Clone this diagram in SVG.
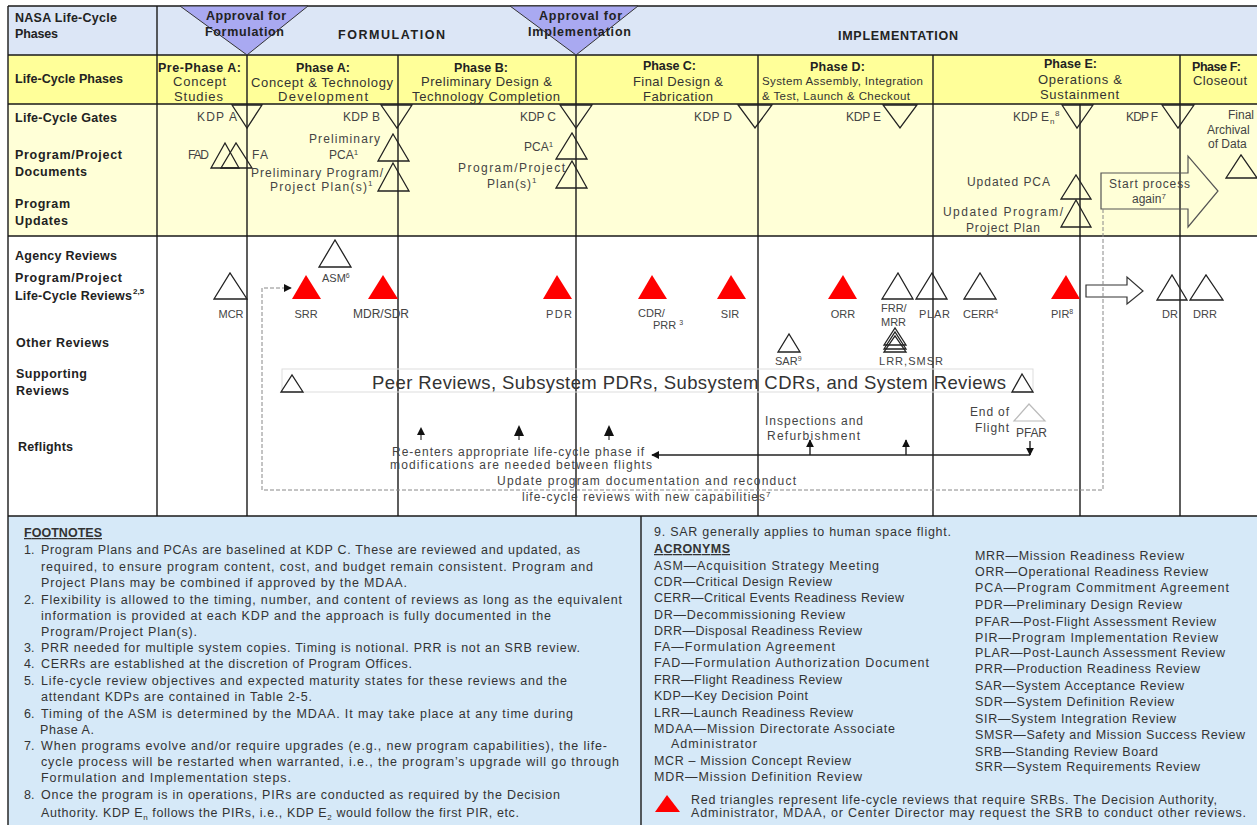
<svg xmlns="http://www.w3.org/2000/svg" width="1257" height="825" viewBox="0 0 1257 825">
<style>
text{font-family:"Liberation Sans",Arial,sans-serif}
.lbl{font-size:12.5px;font-weight:bold;fill:#222}
.ph{font-size:12.5px;font-weight:bold;fill:#222}
.pd{font-size:13px;fill:#333}
.pds{font-size:11.5px;fill:#333}
.t{font-size:12px;fill:#444}
.r{font-size:11px;fill:#444}
.rm{font-size:11px;fill:#444;text-anchor:middle}
.fn{font-size:12.5px;fill:#333}
.ac{font-size:12.5px;fill:#333}
.sup{font-size:8px;fill:#444}
.supb{font-size:8px;font-weight:bold;fill:#222}
.tri{fill:none;stroke:#222;stroke-width:1.3}
.red{fill:#ff0000;stroke:none}
.grid{stroke:#1a1a1a;stroke-width:1.4;fill:none}
.appr{fill:#a9a9f1;stroke:#333;stroke-width:1}
.apt{font-size:12.5px;font-weight:bold;fill:#222}
</style>
<defs>
<marker id="ah" viewBox="0 0 10 10" refX="9" refY="5" markerUnits="userSpaceOnUse" markerWidth="8" markerHeight="8" orient="auto"><path d="M0,0 L10,5 L0,10 z" fill="#111"/></marker>
</defs>

<g id="grid">
<rect x="8" y="6" width="1249" height="49" fill="#dce6f6"/>
<rect x="8" y="55" width="1249" height="49" fill="#ffff99"/>
<rect x="8" y="104" width="1249" height="132" fill="#ffffd7"/>
<rect x="8" y="236" width="1249" height="280" fill="#ffffff"/>
<rect x="8" y="516" width="1249" height="309" fill="#d6e9f8"/>
<path class="grid" d="M8,6H1257M8,55H1257M8,104H1257M8,236H1257M8,516H1257"/>
<path class="grid" d="M8,6V825M157,6V516M247,55V516M398,55V516M576,55V516M758,55V516M933,55V516M1180,55V516M1080,104V516M641,516V825"/>
<rect x="282" y="369" width="751" height="23" fill="none" stroke="#dddddd" stroke-width="1"/>
</g>

<g id="approval-formulation">
<polygon class="appr" points="180,6 308,6 247,55"/>
<text class="apt" x="206" y="20" textLength="80">Approval for</text>
<text class="apt" x="205" y="36" textLength="79">Formulation</text>
</g>
<g id="approval-implementation">
<polygon class="appr" points="510,6 638,6 576,55"/>
<text class="apt" x="539" y="20" textLength="83">Approval for</text>
<text class="apt" x="528" y="36" textLength="103">Implementation</text>
</g>
<g id="stage-labels">
<text class="apt" x="338" y="39" textLength="107">FORMULATION</text>
<text class="apt" x="838" y="40" textLength="120">IMPLEMENTATION</text>
</g>

<g id="row-labels">
<text class="lbl" x="15" y="22" textLength="102">NASA Life-Cycle</text>
<text class="lbl" x="15" y="38" textLength="43">Phases</text>
<text class="lbl" x="15" y="83" textLength="108">Life-Cycle Phases</text>
<text class="lbl" x="15" y="122" textLength="102">Life-Cycle Gates</text>
<text class="lbl" x="15" y="159" textLength="107">Program/Project</text>
<text class="lbl" x="15" y="176" textLength="72">Documents</text>
<text class="lbl" x="15" y="208" textLength="55">Program</text>
<text class="lbl" x="15" y="225" textLength="53">Updates</text>
<text class="lbl" x="15" y="260" textLength="102">Agency Reviews</text>
<text class="lbl" x="15" y="282" textLength="107">Program/Project</text>
<text class="lbl" x="15" y="300" textLength="117">Life-Cycle Reviews</text>
<text class="supb" x="133" y="294">2,5</text>
<text class="lbl" x="16" y="347" textLength="93">Other Reviews</text>
<text class="lbl" x="16" y="378" textLength="71">Supporting</text>
<text class="lbl" x="16" y="395" textLength="53">Reviews</text>
<text class="lbl" x="18" y="451" textLength="55">Reflights</text>
</g>

<g id="phase-pre-a">
<text class="ph" x="158" y="72" textLength="83">Pre-Phase A:</text>
<text class="pd" x="173" y="86" textLength="53">Concept</text>
<text class="pd" x="174" y="101" textLength="49">Studies</text>
</g>
<g id="phase-a">
<text class="ph" x="296" y="72" textLength="54">Phase A:</text>
<text class="pd" x="251" y="87" textLength="142">Concept &amp; Technology</text>
<text class="pd" x="278" y="101" textLength="90">Development</text>
</g>
<g id="phase-b">
<text class="ph" x="454" y="72" textLength="54">Phase B:</text>
<text class="pd" x="421" y="86" textLength="131">Preliminary Design &amp;</text>
<text class="pd" x="412" y="101" textLength="148">Technology Completion</text>
</g>
<g id="phase-c">
<text class="ph" x="643" y="70" textLength="53">Phase C:</text>
<text class="pd" x="633" y="86" textLength="90">Final Design &amp;</text>
<text class="pd" x="643" y="101" textLength="70">Fabrication</text>
</g>
<g id="phase-d">
<text class="ph" x="810" y="71" textLength="55">Phase D:</text>
<text class="pds" x="762" y="85" textLength="161">System Assembly, Integration</text>
<text class="pds" x="762" y="100" textLength="148">&amp; Test, Launch &amp; Checkout</text>
</g>
<g id="phase-e">
<text class="ph" x="1044" y="68" textLength="53">Phase E:</text>
<text class="pd" x="1038" y="84" textLength="84">Operations &amp;</text>
<text class="pd" x="1040" y="99" textLength="79">Sustainment</text>
</g>
<g id="phase-f">
<text class="ph" x="1192" y="71" textLength="49">Phase F:</text>
<text class="pd" x="1193" y="85" textLength="54">Closeout</text>
</g>

<g id="kdp-a"><polygon class="tri" points="232,105 262,105 247,128"/><text class="t" x="197" y="121" textLength="40">KDP A</text></g>
<g id="kdp-b"><polygon class="tri" points="381,105 412,105 397,128"/><text class="t" x="343" y="121" textLength="37">KDP B</text></g>
<g id="kdp-c"><polygon class="tri" points="560,105 592,105 576,128"/><text class="t" x="520" y="121" textLength="36">KDP C</text></g>
<g id="kdp-d"><polygon class="tri" points="738,105 772,105 755,128"/><text class="t" x="694" y="121" textLength="38">KDP D</text></g>
<g id="kdp-e"><polygon class="tri" points="883,105 917,105 900,128"/><text class="t" x="846" y="121" textLength="35">KDP E</text></g>
<g id="kdp-en"><polygon class="tri" points="1062,105 1093,105 1077,128"/><text class="t" x="1013" y="121" textLength="36">KDP E</text><text class="sup" x="1050" y="124">n</text><text class="sup" x="1055" y="116">8</text></g>
<g id="kdp-f"><polygon class="tri" points="1162,105 1194,105 1178,128"/><text class="t" x="1126" y="121" textLength="32">KDP F</text></g>

<g id="doc-fad-fa">
<polygon class="tri" points="211,168 239,168 225,143"/>
<polygon class="tri" points="221,168 252,168 236,143"/>
<text class="t" x="188" y="159" textLength="21">FAD</text>
<text class="t" x="252" y="159" textLength="16">FA</text>
</g>
<g id="doc-prelim-pca">
<polygon class="tri" points="378,161 409,161 393,134"/>
<text class="t" x="309" y="143" textLength="71">Preliminary</text>
<text class="t" x="329" y="159">PCA<tspan dy="-4" font-size="8">1</tspan></text>
</g>
<g id="doc-prelim-plan">
<polygon class="tri" points="378,191 409,191 393,163"/>
<text class="t" x="251" y="177" textLength="132">Preliminary Program/</text>
<text class="t" x="270" y="191" textLength="97">Project Plan(s)</text>
<text class="sup" x="368" y="186">1</text>
</g>
<g id="doc-pca">
<polygon class="tri" points="556,159 587,159 572,133"/>
<text class="t" x="524" y="151">PCA<tspan dy="-4" font-size="8">1</tspan></text>
</g>
<g id="doc-plan">
<polygon class="tri" points="556,188 587,188 572,161"/>
<text class="t" x="458" y="172" textLength="107">Program/Project</text>
<text class="t" x="487" y="188" textLength="44">Plan(s)</text>
<text class="sup" x="532" y="183">1</text>
</g>
<g id="doc-updated-pca">
<polygon class="tri" points="1061,199 1091,199 1076,175"/>
<text class="t" x="967" y="186" textLength="83">Updated PCA</text>
</g>
<g id="doc-updated-plan">
<polygon class="tri" points="1061,227 1091,227 1076,200"/>
<text class="t" x="943" y="216" textLength="120">Updated Program/</text>
<text class="t" x="966" y="232" textLength="74">Project Plan</text>
</g>
<g id="doc-final-archival">
<polygon class="tri" points="1226,178 1257,178 1241,155"/>
<text class="t" x="1228" y="119">Final</text>
<text class="t" x="1207" y="134">Archival</text>
<text class="t" x="1208" y="148">of  Data</text>
</g>
<g id="start-process-again">
<path d="M1101,173 H1188 V156 L1218,191 L1188,227 V209 H1101 Z" fill="none" stroke="#555" stroke-width="1.2"/>
<text class="t" x="1109" y="188" textLength="81">Start process</text>
<text class="t" x="1132" y="203">again<tspan dy="-4" font-size="8">7</tspan></text>
</g>

<g id="rev-mcr"><polygon class="tri" points="214,299 247,299 230,273"/><text class="rm" x="231" y="318">MCR</text></g>
<g id="rev-asm"><polygon class="tri" points="319,267 351,267 335,240"/><text class="r" x="322" y="282">ASM<tspan dy="-4" font-size="7">6</tspan></text></g>
<g id="rev-srr"><polygon class="red" points="292,299 321,299 306,275"/><text class="rm" x="306" y="318">SRR</text></g>
<g id="rev-mdr-sdr"><polygon class="red" points="368,299 398,299 383,275"/><text class="rm" x="381" y="318" style="font-size:12px">MDR/SDR</text></g>
<g id="rev-pdr"><polygon class="red" points="543,299 572,299 557,275"/><text class="r" x="546" y="318" textLength="26">PDR</text></g>
<g id="rev-cdr-prr"><polygon class="red" points="638,299 667,299 652,275"/><text class="r" x="638" y="317">CDR/</text><text class="r" x="653" y="329">PRR <tspan dy="-4" font-size="7">3</tspan></text></g>
<g id="rev-sir"><polygon class="red" points="717,299 746,299 731,275"/><text class="rm" x="730" y="318">SIR</text></g>
<g id="rev-sar"><polygon class="tri" points="778,352 800,352 789,334"/><text class="r" x="775" y="365">SAR<tspan dy="-4" font-size="7">9</tspan></text></g>
<g id="rev-orr"><polygon class="red" points="828,299 857,299 843,275"/><text class="rm" x="843" y="318">ORR</text></g>
<g id="rev-frr-mrr"><polygon class="tri" points="882,299 913,299 898,273"/><text class="r" x="881" y="312">FRR/</text><text class="r" x="881" y="326">MRR</text></g>
<g id="rev-lrr-smsr">
<polygon class="tri" points="884,345 906,345 895,328"/>
<polygon class="tri" points="884,349 906,349 895,332"/>
<polygon class="tri" points="884,352 906,352 895,336"/>
<text class="r" x="879" y="365" textLength="64">LRR,SMSR</text>
</g>
<g id="rev-plar"><polygon class="tri" points="916,299 947,299 932,273"/><text class="r" x="919" y="318" textLength="31">PLAR</text></g>
<g id="rev-cerr"><polygon class="tri" points="964,299 996,299 980,273"/><text class="r" x="963" y="318">CERR<tspan dy="-4" font-size="7">4</tspan></text></g>
<g id="rev-pir"><polygon class="red" points="1051,299 1080,299 1066,275"/><text class="r" x="1051" y="318">PIR<tspan dy="-4" font-size="7">8</tspan></text></g>
<g id="rev-next-arrow"><path d="M1086,285 H1127 V277 L1143,291 L1127,304 V297 H1086 Z" fill="#fff" stroke="#333" stroke-width="1.2"/></g>
<g id="rev-dr"><polygon class="tri" points="1157,300 1187,300 1172,275"/><text class="rm" x="1170" y="318">DR</text></g>
<g id="rev-drr"><polygon class="tri" points="1190,300 1223,300 1206,275"/><text class="rm" x="1205" y="318">DRR</text></g>

<g id="supporting-reviews">
<polygon class="tri" points="281,392 303,392 292,375"/>
<polygon class="tri" points="1012,392 1033,392 1022,374"/>
<text x="372" y="389" font-size="18.5" fill="#333" textLength="634">Peer Reviews, Subsystem PDRs, Subsystem CDRs, and System Reviews</text>
</g>

<g id="reflights">
<polygon points="421,427 417,435 425,435" fill="#111"/>
<polygon points="519,425 514,436 524,436" fill="#111"/>
<polygon points="609,425 604,436 614,436" fill="#111"/>
<path d="M421,435V440M519,436V440M609,436V440" stroke="#111" stroke-width="1"/>
<text class="t" x="392" y="456" textLength="252">Re-enters appropriate life-cycle phase if</text>
<text class="t" x="390" y="469" textLength="262">modifications are needed between flights</text>
<text class="t" x="497" y="485" textLength="299">Update program documentation and reconduct</text>
<text class="t" x="522" y="501" textLength="243">life-cycle reviews with new capabilities</text>
<text class="sup" x="766" y="497">7</text>
<text class="t" x="765" y="425" textLength="98">Inspections and</text>
<text class="t" x="767" y="440" textLength="93">Refurbishment</text>
<text class="t" x="970" y="416" textLength="39">End of</text>
<text class="t" x="975" y="432" textLength="34">Flight</text>
<polygon points="1014,421 1045,421 1029,404" fill="none" stroke="#bbbbbb" stroke-width="1.2"/>
<text class="t" x="1016" y="437" textLength="31">PFAR</text>
</g>

<g id="connectors">
<path d="M1103,209 V490 H262 V288 H291" fill="none" stroke="#888" stroke-width="1" stroke-dasharray="4 2" marker-end="url(#ah)"/>
<path d="M1030,455 H652" fill="none" stroke="#222" stroke-width="1.6" marker-end="url(#ah)"/>
<path d="M810,455 V440" fill="none" stroke="#222" stroke-width="1.4" marker-end="url(#ah)"/>
<path d="M906,455 V440" fill="none" stroke="#222" stroke-width="1.4" marker-end="url(#ah)"/>
<path d="M1030,441 V455" fill="none" stroke="#222" stroke-width="1.4" marker-end="url(#ah)"/>
</g>

<g id="footnotes">
<text class="fn" x="24" y="537" font-weight="bold" text-decoration="underline" textLength="78">FOOTNOTES</text>
<text class="fn" x="24" y="554">1.</text>
<text class="fn" x="41" y="554" textLength="539">Program Plans and PCAs are baselined at KDP C.  These are reviewed and updated, as</text>
<text class="fn" x="41" y="571" textLength="552">required, to ensure program content, cost, and budget remain consistent. Program and</text>
<text class="fn" x="41" y="587" textLength="366">Project Plans may be combined if approved by the MDAA.</text>
<text class="fn" x="24" y="604">2.</text>
<text class="fn" x="41" y="604" textLength="581">Flexibility is allowed to the timing, number, and content of reviews as long as the equivalent</text>
<text class="fn" x="41" y="620" textLength="510">information is provided at each KDP and the approach is fully documented in the</text>
<text class="fn" x="41" y="636" textLength="156">Program/Project Plan(s).</text>
<text class="fn" x="24" y="652">3.</text>
<text class="fn" x="41" y="652" textLength="539">PRR needed for multiple system copies.  Timing is notional.  PRR is not an SRB review.</text>
<text class="fn" x="24" y="668">4.</text>
<text class="fn" x="41" y="668" textLength="371">CERRs are established at the discretion of Program Offices.</text>
<text class="fn" x="24" y="685">5.</text>
<text class="fn" x="41" y="685" textLength="526">Life-cycle review objectives and expected maturity states for these reviews and the</text>
<text class="fn" x="41" y="701" textLength="271">attendant KDPs are contained in Table 2-5.</text>
<text class="fn" x="24" y="718">6.</text>
<text class="fn" x="41" y="718" textLength="532">Timing of the ASM is determined by the MDAA.  It may take place at any time during</text>
<text class="fn" x="40" y="734" textLength="54">Phase A.</text>
<text class="fn" x="24" y="750">7.</text>
<text class="fn" x="41" y="750" textLength="566">When programs evolve and/or require upgrades (e.g., new program capabilities), the life-</text>
<text class="fn" x="41" y="766" textLength="578">cycle  process will be restarted when warranted, i.e., the program’s upgrade will go through</text>
<text class="fn" x="41" y="782" textLength="250">Formulation and Implementation steps.</text>
<text class="fn" x="24" y="799">8.</text>
<text class="fn" x="41" y="799" textLength="519">Once the program is in operations, PIRs are conducted as required by the Decision</text>
<text class="fn" x="41" y="817" letter-spacing="0.6">Authority. KDP E<tspan dy="3" font-size="8">n</tspan><tspan dy="-3"> follows the PIRs, i.e., KDP E</tspan><tspan dy="3" font-size="8">2</tspan><tspan dy="-3"> would follow the first PIR, etc.</tspan></text>

<text class="ac" x="654" y="536" textLength="297">9.  SAR generally applies to human space flight.</text>
<text class="ac" x="654" y="553" font-weight="bold" text-decoration="underline" textLength="76">ACRONYMS</text>
<text class="ac" x="654" y="570" textLength="225">ASM—Acquisition Strategy Meeting</text>
<text class="ac" x="654" y="586" textLength="178">CDR—Critical Design Review</text>
<text class="ac" x="654" y="602" textLength="250">CERR—Critical Events Readiness Review</text>
<text class="ac" x="654" y="619" textLength="191">DR—Decommissioning Review</text>
<text class="ac" x="654" y="635" textLength="208">DRR—Disposal Readiness Review</text>
<text class="ac" x="654" y="651" textLength="181">FA—Formulation Agreement</text>
<text class="ac" x="654" y="667" textLength="275">FAD—Formulation Authorization Document</text>
<text class="ac" x="654" y="684" textLength="188">FRR—Flight Readiness Review</text>
<text class="ac" x="654" y="700" textLength="154">KDP—Key Decision Point</text>
<text class="ac" x="654" y="717" textLength="199">LRR—Launch Readiness Review</text>
<text class="ac" x="654" y="733" textLength="241">MDAA—Mission Directorate Associate</text>
<text class="ac" x="671" y="748" textLength="86">Administrator</text>
<text class="ac" x="654" y="765" textLength="197">MCR – Mission Concept Review</text>
<text class="ac" x="654" y="781" textLength="208">MDR—Mission Definition Review</text>

<text class="ac" x="975" y="560" textLength="209">MRR—Mission Readiness Review</text>
<text class="ac" x="975" y="576" textLength="233">ORR—Operational Readiness Review</text>
<text class="ac" x="975" y="592" textLength="254">PCA—Program Commitment Agreement</text>
<text class="ac" x="975" y="609" textLength="207">PDR—Preliminary Design Review</text>
<text class="ac" x="975" y="626" textLength="241">PFAR—Post-Flight Assessment Review</text>
<text class="ac" x="975" y="642" textLength="243">PIR—Program Implementation Review</text>
<text class="ac" x="975" y="657" textLength="250">PLAR—Post-Launch Assessment Review</text>
<text class="ac" x="975" y="673" textLength="225">PRR—Production Readiness Review</text>
<text class="ac" x="975" y="690" textLength="209">SAR—System Acceptance Review</text>
<text class="ac" x="975" y="706" textLength="199">SDR—System Definition Review</text>
<text class="ac" x="975" y="723" textLength="201">SIR—System Integration Review</text>
<text class="ac" x="975" y="739" textLength="270">SMSR—Safety and Mission Success Review</text>
<text class="ac" x="975" y="756" textLength="183">SRB—Standing Review Board</text>
<text class="ac" x="975" y="771" textLength="225">SRR—System Requirements Review</text>

<polygon class="red" points="655,812 680,812 667,795"/>
<text class="ac" x="691" y="804" textLength="526">Red triangles represent life-cycle reviews that require SRBs. The Decision Authority,</text>
<text class="ac" x="691" y="817" textLength="555">Administrator, MDAA, or Center Director may request the SRB to conduct other reviews.</text>
</g>
</svg>
